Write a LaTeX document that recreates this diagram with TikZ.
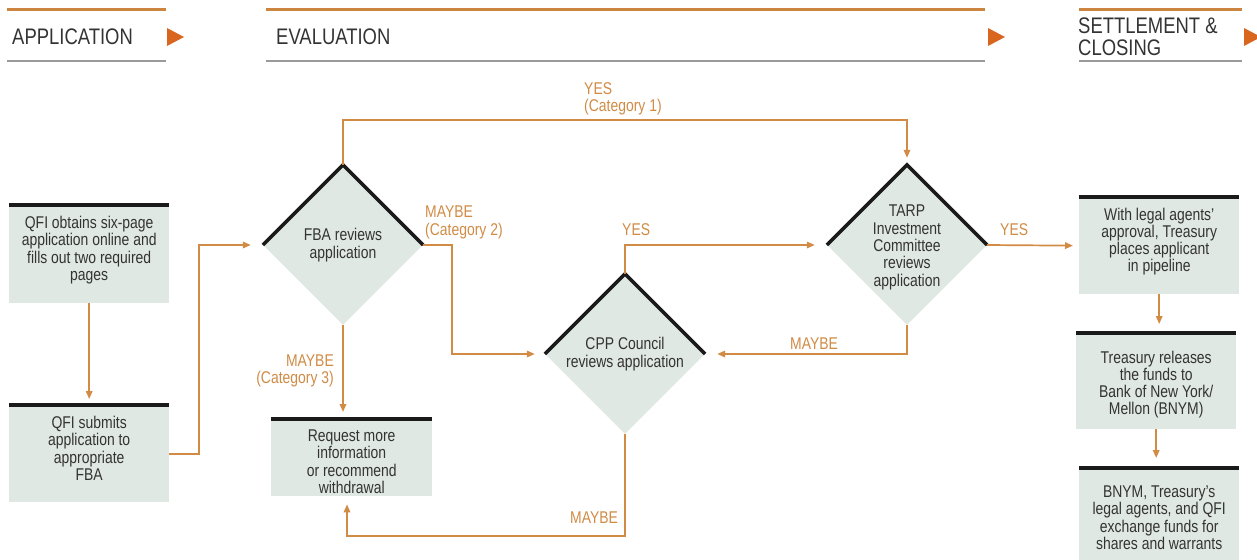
\documentclass[tikz,border=0pt]{standalone}
\usepackage{fontspec}
\setmainfont[FakeStretch=0.82]{Liberation Sans}
\usetikzlibrary{shapes.geometric,arrows.meta,calc}
\definecolor{connc}{HTML}{D28B45}
\definecolor{tric}{HTML}{D9661F}
\definecolor{hdrc}{HTML}{CC8540}
\definecolor{lblc}{HTML}{D08B45}
\definecolor{fillc}{HTML}{E0E8E3}
\definecolor{txtc}{HTML}{333333}
\definecolor{glinec}{HTML}{9A9A9A}
\definecolor{blk}{HTML}{1A1A1A}
\begin{document}
\begin{tikzpicture}[x=1pt,y=-1pt,
  box/.style={fill=fillc, draw=none, minimum width=160pt, anchor=north west, inner sep=0pt},
  boxtext/.style={anchor=north, align=center, text=txtc, font=\fontsize{17}{17.3}\selectfont, inner sep=0pt},
  dia/.style={diamond, aspect=1, fill=fillc, minimum width=160pt, minimum height=160pt, inner sep=0pt, align=center, text=txtc, font=\fontsize{17}{17.3}\selectfont},
  diatext/.style={align=center, text=txtc, font=\fontsize{17}{17.3}\selectfont, inner sep=0pt},
  topline/.style={draw=blk, line width=3.5pt},
  topedge/.style={draw=blk, line width=3.5pt, line join=miter},
  conn/.style={draw=connc, line width=1.7pt, -{Triangle[length=8pt,width=6.5pt]}},
  lbl/.style={text=lblc, font=\fontsize{17}{17.3}\selectfont, inner sep=0pt},
  hdr/.style={text=txtc, font=\fontsize{22.5}{22}\selectfont, inner sep=0pt, anchor=west, align=left},
  hline/.style={draw=hdrc, line width=3pt},
  gline/.style={draw=glinec, line width=1.8pt},
  tri/.style={fill=tric, draw=none}
]
\useasboundingbox (0,0) rectangle (1257,559);

% headers
\draw[hline] (7,10) -- (166,10);
\draw[gline] (7,61) -- (166,61);
\node[hdr] (h1) at (12,37) {APPLICATION};
\fill[tri] (167,28) -- (184,37) -- (167,46) -- cycle;

\draw[hline] (266,10) -- (985,10);
\draw[gline] (266,61) -- (985,61);
\node[hdr] (h2) at (276,37) {EVALUATION};
\fill[tri] (988,28) -- (1005,37) -- (988,46) -- cycle;

\draw[hline] (1079,10) -- (1242,10);
\draw[gline] (1079,61) -- (1242,61);
\node[hdr] (h3) at (1078,37) {SETTLEMENT \&\\CLOSING};
\fill[tri] (1244,28) -- (1261,37) -- (1244,46) -- cycle;

% left boxes
\node[box, minimum height=98pt] (b1) at (9,205) {};
\draw[topline] (b1.north west) -- (b1.north east);
\node[boxtext] (b1t) at ($(b1.north)+(0,11)$) {QFI obtains six-page\\application online and\\fills out two required\\pages};

\node[box, minimum height=97pt] (b2) at (9,405) {};
\draw[topline] (b2.north west) -- (b2.north east);
\node[boxtext] (b2t) at ($(b2.north)+(0,11)$) {QFI submits\\application to\\appropriate\\FBA};

% request box
\node[box, minimum width=161pt, minimum height=77pt] (req) at (271,419) {};
\draw[topline] (req.north west) -- (req.north east);
\node[boxtext] (reqt) at ($(req.north)+(0,10.5)$) {Request more\\information\\or recommend\\withdrawal};

% right boxes
\node[box, minimum height=97pt] (ba) at (1079,197) {};
\draw[topline] (ba.north west) -- (ba.north east);
\node[boxtext] (bat) at ($(ba.north)+(0,10.5)$) {With legal agents'\\approval, Treasury\\places applicant\\in pipeline};

\node[box, minimum height=96pt] (bb) at (1076,333) {};
\draw[topline] (bb.north west) -- (bb.north east);
\node[boxtext] (bbt) at ($(bb.north)+(0,17.5)$) {Treasury releases\\the funds to\\Bank of New York/\\Mellon (BNYM)};

\node[box, minimum height=92pt] (bc) at (1079,468) {};
\draw[topline] (bc.north west) -- (bc.north east);
\node[boxtext] (bct) at ($(bc.north)+(0,17.5)$) {BNYM, Treasury's\\legal agents, and QFI\\exchange funds for\\shares and warrants};

% diamonds
\node[dia] (fba) at (343,245) {FBA reviews\\application};
\draw[topedge] (fba.west) -- (fba.north) -- (fba.east);
\node[dia] (cpp) at (625,354) {CPP Council\\reviews application};
\draw[topedge] (cpp.west) -- (cpp.north) -- (cpp.east);
\node[dia] (tarp) at (907,245) {};
\draw[topedge] (tarp.west) -- (tarp.north) -- (tarp.east);
\node[diatext] (tarpt) at ($(tarp.center)+(0,2.5)$) {TARP\\Investment\\Committee\\reviews\\application};

% coordinates
\coordinate (ytop) at (0,120);
\coordinate (m2) at (452,0);
\coordinate (bot) at (347,536);
\coordinate (j1) at (199,0);

% connectors
\draw[conn, shorten >=6pt] (b1.south) -- (b2.north);
\draw[conn, shorten >=12pt] (b2.east) -- (b2.east -| j1) |- (fba.west);
\draw[conn, shorten >=7pt] (fba.north) -- (fba.north |- ytop) -| (tarp.north);
\draw[conn, shorten >=10pt] (fba.east) -- (fba.east -| m2) |- (cpp.west);
\draw[conn, shorten >=7pt] (fba.south) -- (fba.south |- req.north);
\draw[conn, shorten >=12pt] (cpp.north) |- (tarp.west);
\draw[conn, shorten >=12pt] (tarp.south) |- (cpp.east);
\draw[conn, shorten >=6pt] (tarp.east) -- (ba.west);
\draw[conn, shorten >=9pt] (ba.south) -- (ba.south |- bb.north);
\draw[conn, shorten >=10pt] (bb.south) -- (bb.south |- bc.north);
\draw[conn, shorten >=8pt] (cpp.south) |- (bot) -- (bot |- req.south);

% labels
\node[lbl, anchor=west, align=left] (l1) at (584,98.5) {YES\\(Category 1)};
\node[lbl, anchor=west, align=left] (l2) at (425,222.5) {MAYBE\\(Category 2)};
\node[lbl, anchor=east, align=right] (l3) at (334,371) {MAYBE\\(Category 3)};
\node[lbl, anchor=west] (l4) at (622,230) {YES};
\node[lbl, anchor=west] (l5) at (1000,230) {YES};
\node[lbl, anchor=west] (l6) at (790,344) {MAYBE};
\node[lbl, anchor=west] (l7) at (570,518) {MAYBE};
\end{tikzpicture}
\end{document}
